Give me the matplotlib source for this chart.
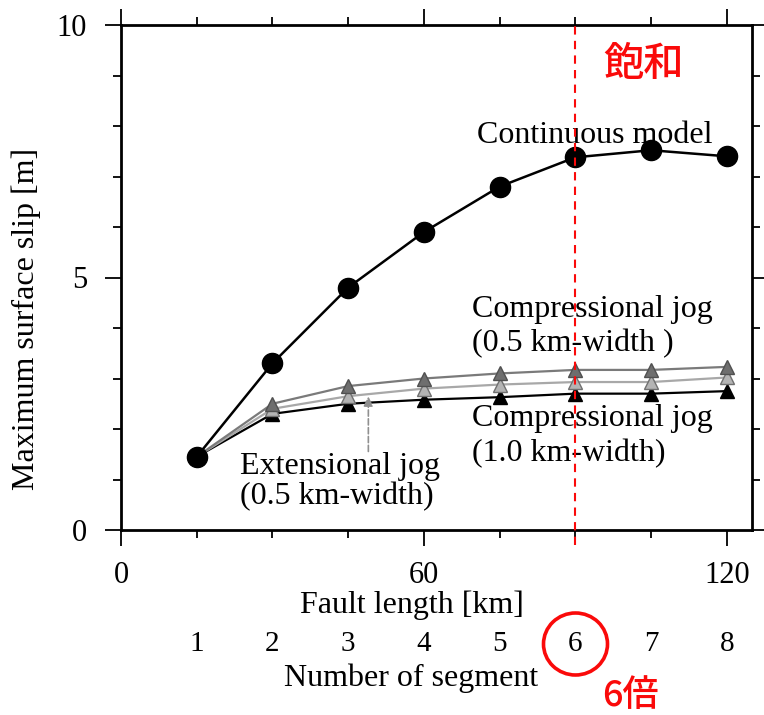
import matplotlib
matplotlib.use("Agg")
import matplotlib.pyplot as plt
from matplotlib.patches import Ellipse
from matplotlib.ticker import MultipleLocator

segments = [1, 2, 3, 4, 5, 6, 7, 8]
fault_length = [15, 30, 45, 60, 75, 90, 105, 120]
continuous = [1.45, 3.30, 4.80, 5.90, 6.80, 7.38, 7.52, 7.40]
comp_05 = [1.45, 2.50, 2.85, 3.00, 3.10, 3.17, 3.17, 3.23]
ext_05 = [1.45, 2.40, 2.65, 2.80, 2.88, 2.93, 2.93, 3.02]
comp_10 = [1.45, 2.30, 2.50, 2.58, 2.63, 2.70, 2.70, 2.75]
saturation_x = 90

serif = ['Liberation Serif', 'DejaVu Serif']
cjk = ['Noto Sans CJK JP', 'DejaVu Sans']
red = '#fa0a0a'

fig = plt.figure(figsize=(7.64, 7.15), dpi=100)
ax = fig.add_axes([121/764, 1-530/715, 631/764, 505/715])
ax.set_xlim(0, 125)
ax.set_ylim(0, 10)

# triangle series
ax.plot(fault_length, comp_10, color='black', lw=1.6, marker='^', ms=10,
        mfc='black', mec='black', zorder=3)
ax.plot(fault_length, ext_05, color='#a8a8a8', lw=1.6, marker='^', ms=10,
        mfc='#b4b4b4', mec='#707070', zorder=3)
ax.plot(fault_length, comp_05, color='#7a7a7a', lw=1.6, marker='^', ms=10,
        mfc='#6e6e6e', mec='#505050', zorder=3)
ax.plot(fault_length, continuous, color='black', lw=1.8, marker='o', ms=14.5,
        mfc='black', mec='black', zorder=4)

# saturation line
ax.plot([saturation_x, saturation_x], [-0.3, 10], color=red, lw=1.5,
        ls=(0, (4, 3)), zorder=5, clip_on=False)

# annotations
fs = 23
ax.text(93.8, 7.82, 'Continuous model', family=serif, fontsize=fs, ha='center', va='center')
ax.text(69.5, 4.36, 'Compressional jog', family=serif, fontsize=fs, ha='left', va='center')
ax.text(69.5, 3.69, '(0.5 km-width )', family=serif, fontsize=fs, ha='left', va='center')
ax.text(69.5, 2.21, 'Compressional jog', family=serif, fontsize=fs, ha='left', va='center')
ax.text(69.5, 1.52, '(1.0 km-width)', family=serif, fontsize=fs, ha='left', va='center')
ax.text(23.5, 1.25, 'Extensional jog', family=serif, fontsize=fs, ha='left', va='center')
ax.text(23.5, 0.66, '(0.5 km-width)', family=serif, fontsize=fs, ha='left', va='center')
ax.annotate('', xy=(49, 2.7), xytext=(49, 1.5),
            arrowprops=dict(arrowstyle='-|>', color='#909090', lw=1.2, ls='--',
                            mutation_scale=14))

ax.text(103.5, 9.22, '飽和', family=cjk, fontsize=29, color=red,
        fontweight='medium', ha='center', va='center')

# axes styling
for s in ax.spines.values():
    s.set_linewidth(2.0)
ax.xaxis.set_major_locator(MultipleLocator(60))
ax.xaxis.set_minor_locator(MultipleLocator(15))
ax.yaxis.set_major_locator(MultipleLocator(5))
ax.yaxis.set_minor_locator(MultipleLocator(1))
ax.tick_params(which='both', direction='out', top=True, right=True, width=1.3,
               labelsize=22)
ax.tick_params(which='major', length=11.5)
ax.tick_params(which='minor', length=6)
ax.tick_params(axis='x', pad=11)
ax.tick_params(axis='y', pad=13)
for lab in ax.get_xticklabels() + ax.get_yticklabels():
    lab.set_family(serif)
ax.set_ylabel('Maximum surface slip [m]', family=serif, fontsize=23)
ax.yaxis.set_label_coords(-0.127, 0.418)

fig.text(412/764, 1-605/715, 'Fault length [km]', family=serif, fontsize=23,
         ha='center', va='center')

sec = ax.secondary_xaxis(-0.2)
sec.set_xticks(fault_length, [str(s) for s in segments])
sec.spines['bottom'].set_visible(False)
sec.tick_params(length=0, labelsize=21, pad=0)
for lab in sec.get_xticklabels():
    lab.set_family(serif)

fig.text(411/764, 1-678/715, 'Number of segment', family=serif, fontsize=23,
         ha='center', va='center')

fig.patches.append(Ellipse((575.5/764, 1-644/715), 64/764, 62/715,
                           transform=fig.transFigure, fill=False,
                           edgecolor=red, lw=2.6))
fig.text(630/764, 1-696/715, '6倍', family=cjk, fontsize=26, color=red,
         fontweight='medium', ha='center', va='center')

fig.savefig('out.png', dpi=100)
